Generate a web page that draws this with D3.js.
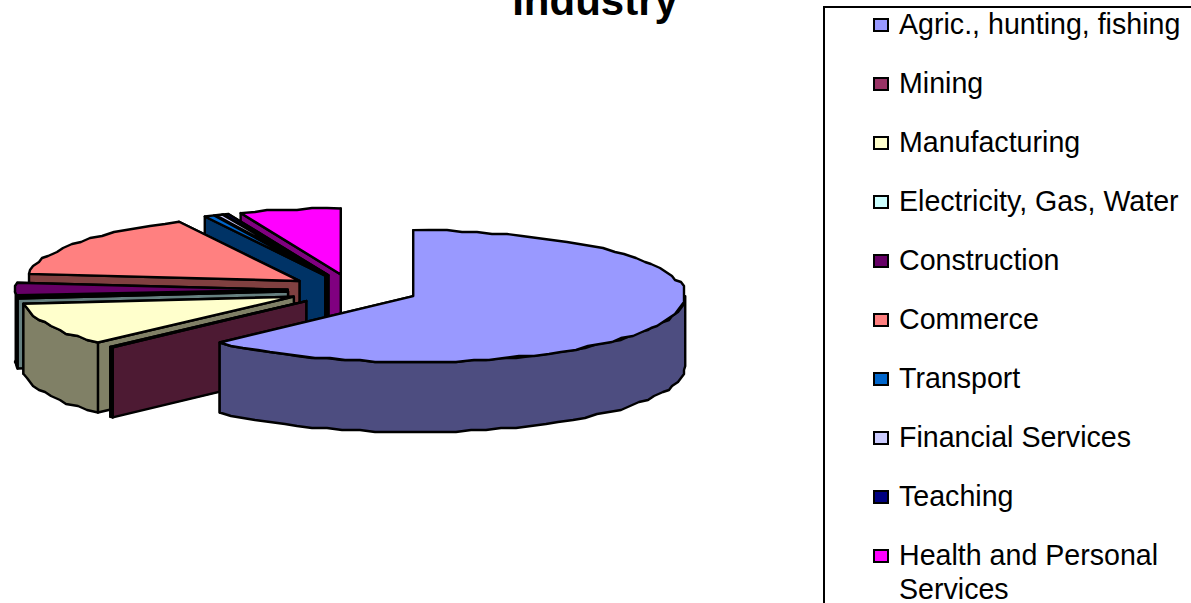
<!DOCTYPE html>
<html>
<head>
<meta charset="utf-8">
<script src="https://cdn.jsdelivr.net/npm/d3@7"></script>
<style>
  html, body { margin: 0; padding: 0; background: #fff; overflow: hidden; }
  text { font-family: "Liberation Sans", Arial, sans-serif; fill: #000; }
</style>
</head>
<body>
<div id="chart"></div>
<script>
const title = "Industry";
const categories = ["Agric., hunting, fishing", "Mining", "Manufacturing", "Electricity, Gas, Water", "Construction", "Commerce", "Transport", "Financial Services", "Teaching", "Health and Personal Services"];
const shares = [62.6, 0.2, 10.5, 0.4, 3.0, 16.0, 0.6, 0.4, 0.3, 6.0];
const colors = ["#9999ff", "#993366", "#ffffcc", "#ccffff", "#660066", "#ff8080", "#0066cc", "#ccccff", "#000080", "#ff00ff"];

const width = 1191, height = 603;
const svg = d3.select("#chart").append("svg").attr("width", width).attr("height", height);

// pie geometry
const cx = 353, cy = 290, rx = 272, ry = 66, depth = 70, explode = 0.24;
const color = d3.scaleOrdinal().domain(categories).range(colors);
const shade = (c) => { const r = d3.rgb(c); return d3.rgb(r.r / 2, r.g / 2, r.b / 2).formatHex(); };

const slices = d3.pie().sort(null).value((d) => d.share)(
  categories.map((name, i) => ({ name, share: shares[i] }))
);

const line = d3.line().curve(d3.curveLinear);
const snap = (v, s) => Math.round(v / s) * s;

// the original arcs have that stepped metafile look, so snap them to a coarse grid
function arcPoints(a0, a1, ox, oy, dy = 0) {
  const n = Math.max(1, Math.ceil((a1 - a0) / 0.06));
  return d3.range(n + 1).map((i) => {
    const a = a0 + ((a1 - a0) * i) / n;
    const x = ox + rx * Math.sin(a), y = oy - ry * Math.cos(a) + dy;
    const keep = i === 0 || i === n;
    return keep ? [x, y] : [snap(x, 3), snap(y, 2)];
  });
}

const pie = svg.append("g");
const face = (pts, fill) => pie.append("path")
  .attr("d", line(pts) + "Z")
  .attr("fill", fill)
  .attr("stroke", "#000")
  .attr("stroke-width", 2.4)
  .attr("stroke-linejoin", "round");

// back to front: last slice first
slices.slice().reverse().forEach((s) => {
  const mid = (s.startAngle + s.endAngle) / 2;
  const ox = cx + explode * rx * Math.sin(mid);
  const oy = cy - explode * ry * Math.cos(mid);
  const fill = color(s.data.name), dark = shade(fill);
  const edge = (a, dy = 0) => [ox + rx * Math.sin(a), oy - ry * Math.cos(a) + dy];

  face([[ox, oy], edge(s.endAngle), edge(s.endAngle, depth), [ox, oy + depth]], dark);
  face([[ox, oy], edge(s.startAngle), edge(s.startAngle, depth), [ox, oy + depth]], dark);

  const w0 = Math.max(s.startAngle, Math.PI / 2), w1 = Math.min(s.endAngle, Math.PI * 1.5);
  if (w1 > w0) {
    face([...arcPoints(w0, w1, ox, oy), ...arcPoints(w0, w1, ox, oy, depth).reverse()], dark);
  }
  face([[ox, oy], ...arcPoints(s.startAngle, s.endAngle, ox, oy)], fill);
});

svg.append("text")
  .attr("x", 595).attr("y", 15)
  .attr("text-anchor", "middle")
  .attr("font-size", 42).attr("font-weight", "bold")
  .text(title);

// legend, box runs off the page on the right and bottom
const legendY = d3.scalePoint().domain(categories).range([24, 555]);
svg.append("rect")
  .attr("x", 824).attr("y", 7).attr("width", 400).attr("height", 640)
  .attr("fill", "none").attr("stroke", "#000").attr("stroke-width", 2);

const items = svg.append("g").selectAll("g").data(categories).join("g")
  .attr("transform", (d) => `translate(0,${legendY(d)})`);
items.append("rect")
  .attr("x", 874).attr("y", -5).attr("width", 14).attr("height", 12)
  .attr("fill", (d) => color(d)).attr("stroke", "#000").attr("stroke-width", 2);
items.append("text")
  .attr("x", 899).attr("y", 10)
  .attr("font-size", 28.6)
  .each(function (d) {
    const t = d3.select(this);
    if (d === "Health and Personal Services") {
      t.append("tspan").attr("x", 899).text("Health and Personal");
      t.append("tspan").attr("x", 899).attr("dy", 34).text("Services");
    } else {
      t.text(d);
    }
  });
</script>
</body>
</html>
